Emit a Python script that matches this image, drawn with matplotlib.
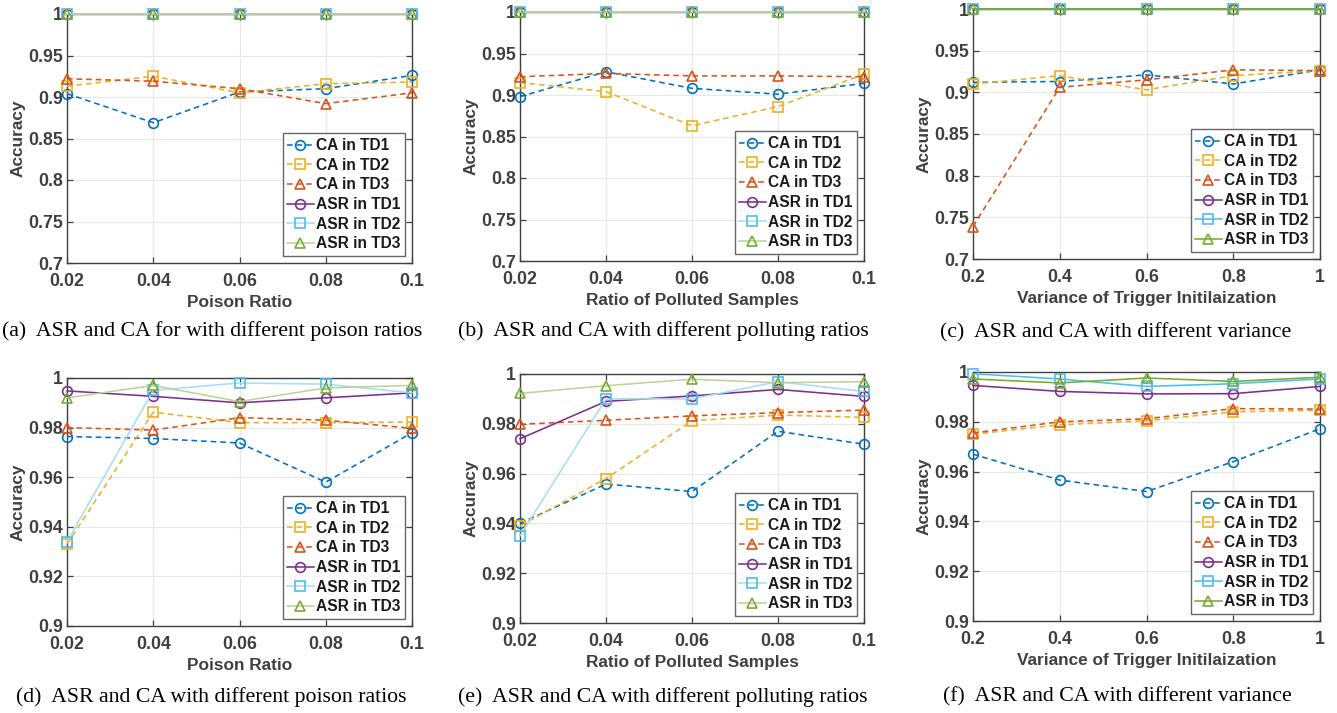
# ==========================================
# ASR y CA en seis escenarios (a)-(f)
# ==========================================

import matplotlib.pyplot as plt
from matplotlib.ticker import FuncFormatter


# ==========================================
# 1. DATOS
# ==========================================

x_ratio = [0.02, 0.04, 0.06, 0.08, 0.1]
x_var = [0.2, 0.4, 0.6, 0.8, 1.0]

etiquetas = [
    "CA in TD1", "CA in TD2", "CA in TD3",
    "ASR in TD1", "ASR in TD2", "ASR in TD3"
]

# (a) Poison Ratio
a_ca1 = [0.904, 0.869, 0.906, 0.910, 0.926]
a_ca2 = [0.913, 0.925, 0.905, 0.916, 0.918]
a_ca3 = [0.922, 0.919, 0.910, 0.892, 0.905]
a_asr1 = [1.0, 1.0, 1.0, 1.0, 1.0]
a_asr2 = [1.0, 1.0, 1.0, 1.0, 1.0]
a_asr3 = [1.0, 1.0, 1.0, 1.0, 1.0]

# (b) Ratio of Polluted Samples
b_ca1 = [0.898, 0.928, 0.908, 0.901, 0.914]
b_ca2 = [0.915, 0.904, 0.863, 0.886, 0.925]
b_ca3 = [0.922, 0.926, 0.923, 0.923, 0.922]
b_asr1 = [1.0, 1.0, 1.0, 1.0, 1.0]
b_asr2 = [1.0, 1.0, 1.0, 1.0, 1.0]
b_asr3 = [1.0, 1.0, 1.0, 1.0, 1.0]

# (c) Variance of Trigger Initialization
c_ca1 = [0.912, 0.913, 0.921, 0.910, 0.927]
c_ca2 = [0.910, 0.920, 0.903, 0.920, 0.926]
c_ca3 = [0.739, 0.906, 0.915, 0.927, 0.926]
c_asr1 = [1.0, 1.0, 1.0, 1.0, 1.0]
c_asr2 = [1.0, 1.0, 1.0, 1.0, 1.0]
c_asr3 = [1.0, 1.0, 1.0, 1.0, 1.0]

# (d) Poison Ratio
d_ca1 = [0.9764, 0.9756, 0.9738, 0.958, 0.9779]
d_ca2 = [0.933, 0.9862, 0.982, 0.982, 0.9822]
d_ca3 = [0.980, 0.979, 0.984, 0.983, 0.9797]
d_asr1 = [0.9948, 0.9926, 0.990, 0.992, 0.994]
d_asr2 = [0.934, 0.995, 0.998, 0.9975, 0.994]
d_asr3 = [0.992, 0.997, 0.9905, 0.996, 0.997]

# (e) Ratio of Polluted Samples
e_ca1 = [0.940, 0.9558, 0.9528, 0.977, 0.9718]
e_ca2 = [0.939, 0.958, 0.9812, 0.9835, 0.9826]
e_ca3 = [0.9798, 0.9814, 0.9832, 0.9845, 0.9855]
e_asr1 = [0.974, 0.989, 0.9912, 0.9938, 0.991]
e_asr2 = [0.935, 0.990, 0.990, 0.9969, 0.993]
e_asr3 = [0.9922, 0.9953, 0.9979, 0.9965, 0.9969]

# (f) Variance of Trigger Initialization
f_ca1 = [0.967, 0.9566, 0.952, 0.964, 0.9772]
f_ca2 = [0.975, 0.9788, 0.9804, 0.984, 0.9846]
f_ca3 = [0.9755, 0.980, 0.9812, 0.9853, 0.9851]
f_asr1 = [0.9946, 0.9922, 0.9912, 0.9913, 0.9942]
f_asr2 = [0.9993, 0.9972, 0.9942, 0.9953, 0.9972]
f_asr3 = [0.9972, 0.9956, 0.9976, 0.9962, 0.9979]

xlabel_ratio = "Poison Ratio"
xlabel_pol = "Ratio of Polluted Samples"
xlabel_var = "Variance of Trigger Initilaization"

captions = [
    "(a)  ASR and CA for with different poison ratios",
    "(b)  ASR and CA with different polluting ratios",
    "(c)  ASR and CA with different variance",
    "(d)  ASR and CA with different poison ratios",
    "(e)  ASR and CA with different polluting ratios",
    "(f)  ASR and CA with different variance",
]


# ==========================================
# 2. ESTILO
# ==========================================

plt.rcParams["font.family"] = "Liberation Sans"
plt.rcParams["font.weight"] = "bold"

gris = "#404040"

colores = [
    "#0072BD", "#EDB120", "#D95319",
    "#7E2F8E", "#4DBEEE", "#77AC30"
]
colores_claros = [
    "#0072BD", "#EDB120", "#D95319",
    "#7E2F8E", "#a6def6", "#bbd597"
]
marcadores = ["o", "s", "^", "o", "s", "^"]
estilos = ["--", "--", "--", "-", "-", "-"]

fig = plt.figure(figsize=(13.37, 7.13), dpi=100)


def px_axes(izq, der, arriba, abajo):
    W, H = 1337, 713
    return fig.add_axes([
        izq / W,
        1 - abajo / H,
        (der - izq) / W,
        (abajo - arriba) / H
    ])


def panel(ax, x, series, xlabel, ylim, yticks, claro):
    for i, y in enumerate(series):
        color_linea = colores_claros[i] if claro else colores[i]
        ax.plot(
            x, y,
            linestyle=estilos[i],
            dashes=(3.5, 2.5) if estilos[i] == "--" else (None, None),
            color=color_linea,
            marker=marcadores[i],
            markersize=7,
            markerfacecolor="none",
            markeredgecolor=colores[i],
            markeredgewidth=1.2,
            linewidth=1.15,
            label=etiquetas[i],
            clip_on=False,
            zorder=3
        )

    ax.set_xlim(x[0], x[-1])
    ax.set_ylim(*ylim)
    ax.set_xticks(x)
    ax.set_yticks(yticks)
    fmt = FuncFormatter(lambda v, p: f"{v:g}")
    ax.xaxis.set_major_formatter(fmt)
    ax.yaxis.set_major_formatter(fmt)

    ax.grid(True, color="#e8e8e8", linewidth=0.9)
    ax.set_axisbelow(True)

    for lado in ax.spines.values():
        lado.set_color(gris)
        lado.set_linewidth(1.0)

    ax.tick_params(
        direction="in", top=True, right=True,
        length=4, width=0.9, colors=gris,
        labelsize=12.8
    )
    ax.tick_params(axis="x", pad=7)
    ax.tick_params(axis="y", pad=3)
    for t in ax.get_xticklabels() + ax.get_yticklabels():
        t.set_fontweight("bold")

    ax.set_xlabel(xlabel, fontsize=12.4, color=gris,
                  fontweight="bold", labelpad=4)
    ax.set_ylabel("Accuracy", fontsize=12.4, color=gris,
                  fontweight="bold", labelpad=2)

    leg = ax.legend(
        loc="lower right",
        frameon=True,
        fancybox=False,
        handlelength=1.7,
        handletextpad=0.15,
        labelspacing=0.3,
        borderpad=0.3,
        borderaxespad=0.45,
        prop={"weight": "bold", "size": 11.2}
    )
    leg.get_frame().set_edgecolor(gris)
    leg.get_frame().set_linewidth(1.0)
    for t in leg.get_texts():
        t.set_color("#1a1a1a")
        t.set_fontweight("bold")


# ==========================================
# 3. PANELES
# ==========================================

ticks_top = [0.7, 0.75, 0.8, 0.85, 0.9, 0.95, 1.0]
ticks_bot = [0.9, 0.92, 0.94, 0.96, 0.98, 1.0]

ax_a = px_axes(67, 412, 14, 263)
panel(ax_a, x_ratio, [a_ca1, a_ca2, a_ca3, a_asr1, a_asr2, a_asr3],
      xlabel_ratio, (0.7, 1.0), ticks_top, True)

ax_b = px_axes(520, 864, 12, 261)
panel(ax_b, x_ratio, [b_ca1, b_ca2, b_ca3, b_asr1, b_asr2, b_asr3],
      xlabel_pol, (0.7, 1.0), ticks_top, True)

ax_c = px_axes(973, 1320, 9, 259)
panel(ax_c, x_var, [c_ca1, c_ca2, c_ca3, c_asr1, c_asr2, c_asr3],
      xlabel_var, (0.7, 1.0), ticks_top, False)

ax_d = px_axes(67, 412, 378, 626)
panel(ax_d, x_ratio, [d_ca1, d_ca2, d_ca3, d_asr1, d_asr2, d_asr3],
      xlabel_ratio, (0.9, 1.0), ticks_bot, True)

ax_e = px_axes(520, 864, 374, 623)
panel(ax_e, x_ratio, [e_ca1, e_ca2, e_ca3, e_asr1, e_asr2, e_asr3],
      xlabel_pol, (0.9, 1.0), ticks_bot, True)

ax_f = px_axes(973, 1320, 372, 621)
panel(ax_f, x_var, [f_ca1, f_ca2, f_ca3, f_asr1, f_asr2, f_asr3],
      xlabel_var, (0.9, 1.0), ticks_bot, False)


# ==========================================
# 4. PIES DE FIGURA
# ==========================================

pos_captions = [
    (212, 331), (663, 331), (1116, 333),
    (211, 697), (663, 697), (1117, 697)
]

for texto, (cx, cy) in zip(captions, pos_captions):
    fig.text(
        cx / 1337, 1 - cy / 713, texto,
        ha="center", va="center",
        fontsize=15.7, family="Liberation Serif",
        fontweight="normal", color="black"
    )

plt.savefig("out.png", dpi=100)
